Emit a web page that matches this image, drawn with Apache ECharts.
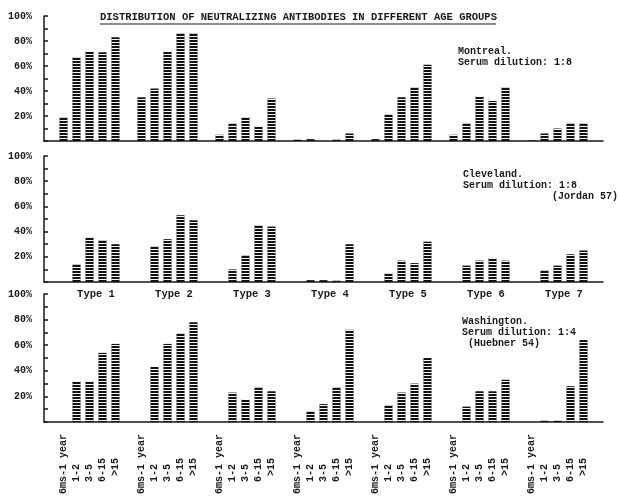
<!DOCTYPE html>
<html lang="en">
<head>
    <meta charset="UTF-8">
    <title>Distribution of neutralizing antibodies</title>
    <script src="https://cdn.jsdelivr.net/npm/echarts@6/dist/echarts.min.js"></script>
    <style>
        *{ margin: 0; padding: 0; }
        body{ background-color: #fff; overflow: hidden; }
        #main{ width: 620px; height: 497px; }
    </style>
</head>
<body>
<div id="main"></div>
<script>
    // age groups inside each type, and the seven types
    var ageGroups = ['6ms-1 year', '1-2', '3-5', '6-15', '>15'];
    var typeNames = ['Type 1', 'Type 2', 'Type 3', 'Type 4', 'Type 5', 'Type 6', 'Type 7'];
    var yTicks = [20, 40, 60, 80, 100];

    // percent with antibodies, one row per type (ageGroups order)
    var montreal = [
        [19, 67, 72, 71, 83],
        [35, 42, 72, 86, 86],
        [5, 14, 19, 12, 34],
        [1, 1.5, 0, 1, 6],
        [1.5, 21, 35, 43, 61],
        [5, 14, 36, 32, 43],
        [0.5, 6, 10, 14, 14]
    ];
    var cleveland = [
        ['-', 14, 35, 33, 30],
        ['-', 28, 34, 53, 49],
        ['-', 10, 21, 45, 44],
        ['-', 1.5, 1.5, 1, 30],
        ['-', 7, 17, 15, 32],
        ['-', 13, 17, 19, 17],
        ['-', 9, 13, 22, 25]
    ];
    var washington = [
        ['-', 32, 32, 54, 61],
        ['-', 43, 61, 69, 78],
        ['-', 23, 18, 27, 24],
        ['-', 8, 14, 27, 72],
        ['-', 13, 23, 30, 50],
        ['-', 12, 24, 24, 33],
        ['-', 1, 1, 28, 64]
    ];

    var font = 'Liberation Mono';
    var ink = '#1a1a1a';

    // one empty slot before every type and one at the end
    var slots = [];
    for (var t = 0; t < typeNames.length; t++) {
        slots.push('');
        for (var a = 0; a < ageGroups.length; a++) slots.push(ageGroups[a]);
    }
    slots.push('');

    function flat(rows) {
        var out = [];
        for (var i = 0; i < rows.length; i++) {
            out.push('-');
            for (var j = 0; j < rows[i].length; j++) out.push(rows[i][j]);
        }
        out.push('-');
        return out;
    }

    // typed labels sit at different distances from the axis (hidden filler chars)
    var labelGap = {'6ms-1 year': '', '1-2': 'xxxxx', '3-5': 'xxxxx', '6-15': 'xxxx', '>15': 'xxxx'};

    var grids = [
        {left: 44, width: 559, top: 16, height: 125},
        {left: 44, width: 559, top: 156, height: 126},
        {left: 44, width: 559, top: 294, height: 128},
        {left: 57, width: 546, top: 156, height: 126}
    ];

    var xAxes = [], yAxes = [];
    for (var g = 0; g < 3; g++) {
        xAxes.push({
            type: 'category', gridIndex: g, data: slots,
            axisLine: {lineStyle: {color: ink, width: 1.5}},
            axisTick: {show: false},
            axisLabel: g < 2 ? {show: false} : {
                interval: 0, rotate: 90, margin: 12,
                fontFamily: font, fontSize: 10, fontWeight: 'bold', color: ink,
                formatter: function (v) {
                    if (!v) return '';
                    var gap = labelGap[v];
                    return '{t|' + v + '}' + (gap ? '{h|' + gap + '}' : '');
                },
                rich: {
                    t: {fontFamily: font, fontSize: 10, fontWeight: 'bold', color: ink},
                    h: {fontFamily: font, fontSize: 10, fontWeight: 'bold', color: 'rgba(0,0,0,0)'}
                }
            }
        });
        yAxes.push({
            type: 'value', gridIndex: g, min: 0, max: 100, interval: 10,
            axisLine: {show: true, lineStyle: {color: ink, width: 1.5}},
            axisTick: {show: true, inside: true, length: 4, lineStyle: {color: ink, width: 1.5}},
            splitLine: {show: false},
            axisLabel: {
                margin: 12, fontFamily: font, fontSize: 10, fontWeight: 'bold', color: ink,
                formatter: function (v) { return yTicks.indexOf(v) >= 0 ? v + '%' : ''; }
            }
        });
    }
    // type names under the Cleveland panel
    xAxes.push({
        type: 'category', gridIndex: 3, data: typeNames,
        axisLine: {show: false}, axisTick: {show: false},
        axisLabel: {margin: 7, fontFamily: font, fontSize: 10.5, fontWeight: 'bold', color: ink}
    });
    yAxes.push({type: 'value', gridIndex: 3, show: false, min: 0, max: 100});

    var stripes = {
        symbol: 'rect', symbolSize: 1, color: '#ffffff',
        dashArrayX: [1, 0], dashArrayY: [1, 2], rotation: 0
    };

    function barSeries(name, rows, g) {
        return {
            name: name, type: 'bar', xAxisIndex: g, yAxisIndex: g,
            barWidth: 8, data: flat(rows),
            itemStyle: {color: '#111', decal: stripes},
            animation: false
        };
    }

    var titleStyle = {fontFamily: font, fontSize: 10, fontWeight: 'bold', color: ink, lineHeight: 11};

    var myChart = echarts.init(document.getElementById('main'));
    var option = {
        backgroundColor: '#fff',
        animation: false,
        title: [
            {text: 'DISTRIBUTION OF NEUTRALIZING ANTIBODIES IN DIFFERENT AGE GROUPS', left: 100, top: 12, padding: 0,
                textStyle: {fontFamily: font, fontSize: 10.5, fontWeight: 'bold', color: ink}},
            {text: 'Montreal.\nSerum dilution: 1:8', left: 458, top: 46, padding: 0, textStyle: titleStyle},
            {text: 'Cleveland.\nSerum dilution: 1:8', left: 463, top: 169, padding: 0, textStyle: titleStyle},
            {text: '(Jordan 57)', right: 2, top: 191, padding: 0, textStyle: titleStyle},
            {text: 'Washington.\nSerum dilution: 1:4\n (Huebner 54)', left: 462, top: 316, padding: 0, textStyle: titleStyle}
        ],
        graphic: [
            {type: 'line', shape: {x1: 100, y1: 24, x2: 496, y2: 24}, style: {stroke: ink, lineWidth: 1.2}}
        ],
        grid: grids,
        xAxis: xAxes,
        yAxis: yAxes,
        series: [
            barSeries('Montreal', montreal, 0),
            barSeries('Cleveland', cleveland, 1),
            barSeries('Washington', washington, 2)
        ]
    };
    myChart.setOption(option);
    window.onresize = myChart.resize;
</script>
</body>
</html>
